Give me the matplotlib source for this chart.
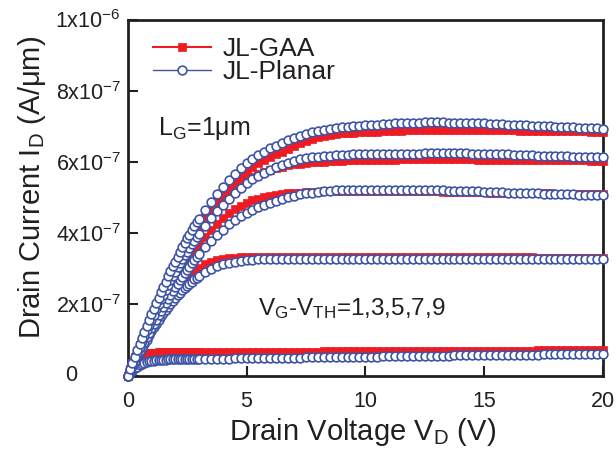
import numpy as np
import matplotlib
matplotlib.use("Agg")
import matplotlib.pyplot as plt

plt.rcParams['font.family'] = ['Liberation Sans', 'DejaVu Sans']
plt.rcParams['mathtext.fontset'] = 'custom'
plt.rcParams['mathtext.rm'] = 'Liberation Sans'
plt.rcParams['mathtext.it'] = 'Liberation Sans:italic'
plt.rcParams['mathtext.default'] = 'regular'

# drain voltage sweep (V): fine steps in the linear region, coarser later
vd = np.concatenate([np.round(np.arange(0, 3.001, 0.1), 2),
                     np.arange(3.25, 10.001, 0.25),
                     np.arange(10.25, 20.001, 0.25)])

# drain current in units of 1e-7 A/um
# JL-Planar (blue circles)
planar_1 = [0, .07, .14, .20, .25, .29, .33, .36, .38, .40, .41, .42, .43, .43, .44, .44,
            .44, .45, .45, .45, .45, .45, .46, .46, .46, .46, .46, .46, .46, .46, .46,
            .46, .47, .47, .47, .47, .48, .48, .48, .48, .49, .49, .49, .49, .50, .50, .50,
            .50, .51, .51, .51, .51, .52, .52, .52, .52, .53, .53, .53,
            .53, .53, .54, .54, .54, .54, .55, .55, .55, .55, .56, .56, .56, .56, .57, .57,
            .57, .57, .57, .58, .58, .58, .58, .58, .59, .59, .59, .59, .59, .60, .60, .60,
            .60, .60, .60, .61, .61, .61, .61, .61]
planar_3 = [0, .13, .26, .39, .52, .65, .77, .89, 1.01, 1.13, 1.25, 1.36, 1.46, 1.56, 1.66, 1.75,
            1.84, 1.93, 2.02, 2.10, 2.18, 2.25, 2.32, 2.39, 2.46, 2.52, 2.58, 2.64, 2.70, 2.75, 2.80,
            2.91, 3.00, 3.07, 3.13, 3.17, 3.20, 3.22, 3.24, 3.25, 3.26, 3.26, 3.27, 3.27, 3.27, 3.27,
            3.28, 3.28, 3.28, 3.28, 3.28, 3.28, 3.28, 3.28, 3.28, 3.28, 3.28, 3.28, 3.28,
            3.28, 3.28, 3.28, 3.28, 3.28, 3.28, 3.28, 3.28, 3.28, 3.28, 3.28, 3.28, 3.28, 3.28,
            3.27, 3.27, 3.27, 3.27, 3.27, 3.27, 3.27, 3.27, 3.27, 3.27, 3.27, 3.27, 3.27, 3.27,
            3.27, 3.27, 3.27, 3.27, 3.27, 3.26, 3.26, 3.26, 3.26, 3.26, 3.26, 3.26]
planar_5 = [0, .14, .27, .41, .55, .68, .81, .94, 1.07, 1.20, 1.33, 1.45, 1.57, 1.69, 1.81, 1.93,
            2.04, 2.15, 2.27, 2.38, 2.48, 2.58, 2.68, 2.78, 2.88, 2.97, 3.06, 3.15, 3.24, 3.33, 3.41,
            3.60, 3.78, 3.95, 4.10, 4.25, 4.38, 4.48, 4.57, 4.65, 4.72, 4.79, 4.85, 4.91, 4.96, 5.01,
            5.05, 5.09, 5.12, 5.14, 5.16, 5.18, 5.19, 5.20, 5.21, 5.21, 5.22, 5.22, 5.22,
            5.22, 5.22, 5.22, 5.22, 5.22, 5.22, 5.21, 5.21, 5.21, 5.21, 5.20, 5.20,
            5.20, 5.19, 5.19, 5.18, 5.18, 5.17, 5.17, 5.16, 5.16, 5.15, 5.15, 5.14,
            5.14, 5.13, 5.13, 5.12, 5.12, 5.11, 5.11, 5.10, 5.10, 5.09, 5.09, 5.08,
            5.08, 5.08, 5.07, 5.07]
planar_7 = [0, .16, .32, .48, .64, .80, .96, 1.11, 1.27, 1.42, 1.57, 1.71, 1.86, 2.00, 2.14, 2.27,
            2.41, 2.54, 2.67, 2.80, 2.92, 3.04, 3.15, 3.27, 3.38, 3.48, 3.59, 3.69, 3.79, 3.89, 3.98,
            4.20, 4.42, 4.62, 4.80, 4.97, 5.13, 5.27, 5.40, 5.51, 5.60, 5.70, 5.78, 5.85, 5.92, 5.98,
            6.03, 6.07, 6.10, 6.13, 6.15, 6.17, 6.18, 6.19, 6.20, 6.20, 6.21, 6.21, 6.22,
            6.22, 6.22, 6.22, 6.23, 6.23, 6.23, 6.23, 6.23, 6.23, 6.24, 6.24, 6.24,
            6.24, 6.24, 6.24, 6.24, 6.24, 6.23, 6.23, 6.23, 6.22, 6.22, 6.21, 6.21,
            6.20, 6.20, 6.19, 6.19, 6.18, 6.18, 6.17, 6.17, 6.16, 6.16, 6.15, 6.15,
            6.14, 6.14, 6.13, 6.13]
planar_9 = [0, .18, .36, .53, .71, .88, 1.05, 1.22, 1.39, 1.56, 1.72, 1.88, 2.04, 2.19, 2.35, 2.50,
            2.64, 2.79, 2.93, 3.07, 3.20, 3.33, 3.47, 3.60, 3.72, 3.85, 3.96, 4.08, 4.19, 4.30, 4.40,
            4.65, 4.88, 5.10, 5.30, 5.49, 5.66, 5.82, 5.96, 6.09, 6.20, 6.29, 6.38, 6.46, 6.54, 6.61,
            6.68, 6.74, 6.79, 6.83, 6.87, 6.90, 6.93, 6.95, 6.97, 6.99, 7.00, 7.02, 7.03,
            7.04, 7.05, 7.06, 7.07, 7.08, 7.08, 7.09, 7.10, 7.10, 7.11, 7.11, 7.11,
            7.11, 7.10, 7.10, 7.10, 7.09, 7.09, 7.08, 7.08, 7.07, 7.06, 7.06, 7.05,
            7.04, 7.03, 7.03, 7.02, 7.01, 7.00, 7.00, 6.99, 6.98, 6.97, 6.97, 6.96,
            6.95, 6.94, 6.94, 6.93]

# JL-GAA (red squares)
gaa_1 = [0, .11, .22, .32, .41, .48, .53, .57, .60, .62, .63, .64, .64, .65, .65, .65,
         .65, .65, .65, .65, .66, .66, .66, .66, .66, .66, .66, .66, .66, .66, .66,
         .66, .66, .66, .66, .66, .66, .66, .66, .67, .67, .67, .67, .67, .67, .67, .67,
         .67, .67, .67, .67, .68, .68, .68, .68, .68, .68, .68, .68,
         .68, .68, .68, .68, .68, .68, .69, .69, .69, .69, .69, .69, .69, .69, .69, .69,
         .70, .70, .70, .70, .70, .70, .70, .70, .70, .70, .70, .70, .71, .71, .71, .71,
         .71, .71, .71, .71, .71, .71, .71, .71]
gaa_3 = [0, .14, .27, .41, .55, .68, .81, .94, 1.07, 1.20, 1.33, 1.45, 1.57, 1.69, 1.80, 1.90,
         2.00, 2.10, 2.19, 2.28, 2.37, 2.45, 2.53, 2.61, 2.68, 2.75, 2.81, 2.87, 2.93, 2.98, 3.03,
         3.13, 3.20, 3.25, 3.28, 3.30, 3.31, 3.32, 3.32, 3.33, 3.33, 3.33, 3.33, 3.33, 3.33, 3.33,
         3.33, 3.33, 3.33, 3.33, 3.33, 3.33, 3.33, 3.33, 3.33, 3.33, 3.33, 3.33, 3.33,
         3.33, 3.33, 3.33, 3.33, 3.33, 3.33, 3.33, 3.33, 3.33, 3.33, 3.33, 3.33,
         3.32, 3.32, 3.32, 3.32, 3.32, 3.32, 3.32, 3.32, 3.32, 3.32, 3.32, 3.32,
         3.32, 3.32, 3.32, 3.32, 3.31, 3.31, 3.31, 3.31, 3.31, 3.31, 3.31, 3.31,
         3.31, 3.31, 3.31, 3.31]
gaa_5 = [0, .15, .29, .44, .58, .72, .86, 1.00, 1.14, 1.28, 1.42, 1.55, 1.68, 1.81, 1.94, 2.07,
         2.19, 2.31, 2.43, 2.55, 2.66, 2.77, 2.88, 2.99, 3.10, 3.20, 3.30, 3.40, 3.50, 3.59, 3.68,
         3.89, 4.08, 4.26, 4.42, 4.56, 4.67, 4.77, 4.85, 4.92, 4.97, 5.01, 5.05, 5.08, 5.10, 5.12,
         5.13, 5.14, 5.15, 5.16, 5.16, 5.17, 5.17, 5.17, 5.18, 5.18, 5.18, 5.18, 5.18,
         5.18, 5.18, 5.18, 5.18, 5.18, 5.18, 5.18, 5.17, 5.17, 5.17, 5.17, 5.17,
         5.16, 5.16, 5.16, 5.16, 5.15, 5.15, 5.15, 5.15, 5.14, 5.14, 5.14, 5.13,
         5.13, 5.13, 5.13, 5.12, 5.12, 5.12, 5.12, 5.11, 5.11, 5.11, 5.11, 5.10,
         5.10, 5.10, 5.10, 5.10]
gaa_7 = [0, .16, .33, .49, .66, .82, .98, 1.14, 1.30, 1.46, 1.61, 1.76, 1.91, 2.06, 2.20, 2.35,
         2.49, 2.62, 2.76, 2.89, 3.02, 3.14, 3.26, 3.38, 3.49, 3.60, 3.71, 3.81, 3.91, 4.01, 4.10,
         4.33, 4.54, 4.74, 4.92, 5.09, 5.24, 5.37, 5.48, 5.57, 5.65, 5.72, 5.78, 5.83, 5.87, 5.90,
         5.93, 5.95, 5.97, 5.99, 6.00, 6.01, 6.02, 6.03, 6.03, 6.04, 6.04, 6.05, 6.05,
         6.05, 6.06, 6.06, 6.06, 6.06, 6.07, 6.07, 6.07, 6.07, 6.07, 6.07, 6.07,
         6.07, 6.07, 6.07, 6.07, 6.07, 6.07, 6.06, 6.06, 6.06, 6.06, 6.06, 6.06,
         6.06, 6.05, 6.05, 6.05, 6.05, 6.05, 6.05, 6.04, 6.04, 6.04, 6.04, 6.04,
         6.04, 6.03, 6.03, 6.03]
gaa_9 = [0, .17, .34, .51, .68, .85, 1.01, 1.17, 1.33, 1.49, 1.65, 1.80, 1.95, 2.10, 2.25, 2.40,
         2.54, 2.67, 2.80, 2.93, 3.05, 3.17, 3.30, 3.42, 3.54, 3.65, 3.76, 3.88, 3.99, 4.10, 4.20,
         4.43, 4.65, 4.86, 5.06, 5.24, 5.42, 5.58, 5.72, 5.85, 5.96, 6.05, 6.13, 6.21, 6.29, 6.37,
         6.45, 6.53, 6.60, 6.65, 6.69, 6.73, 6.76, 6.78, 6.80, 6.81, 6.82, 6.83, 6.84,
         6.85, 6.85, 6.86, 6.87, 6.87, 6.88, 6.89, 6.90, 6.90, 6.90, 6.91, 6.91,
         6.91, 6.91, 6.91, 6.91, 6.91, 6.90, 6.90, 6.90, 6.90, 6.89, 6.89, 6.89,
         6.89, 6.88, 6.88, 6.88, 6.88, 6.87, 6.87, 6.87, 6.87, 6.86, 6.86, 6.86,
         6.86, 6.85, 6.85, 6.85]

gaa_curves = [gaa_1, gaa_3, gaa_5, gaa_7, gaa_9]
planar_curves = [planar_1, planar_3, planar_5, planar_7, planar_9]

red = '#ED1C24'
blue = '#3E55A6'
ink = '#231F20'

fig = plt.figure(figsize=(6.16, 4.57), dpi=100)
ax = fig.add_axes([0.2073, 0.1783, 0.7716, 0.779])

for i, cur in enumerate(gaa_curves):
    ax.plot(vd, np.array(cur) * 1e-7, color=red, lw=1.5, marker='s', ms=5.5,
            mfc=red, mec=red, mew=0.5, clip_on=False, zorder=3,
            label='JL-GAA' if i == 0 else None)
for i, cur in enumerate(planar_curves):
    ax.plot(vd, np.array(cur) * 1e-7, color=blue, lw=1, marker='o', ms=6.3,
            mfc='white', mec=blue, mew=1.2, clip_on=False, zorder=4,
            label='JL-Planar' if i == 0 else None)

ax.set_xlim(0, 20)
ax.set_ylim(0, 1e-6)
ax.set_xticks([0, 5, 10, 15, 20])
ax.set_xticklabels(['0', '5', '10', '15', '20'])
ax.set_yticks([0, 2e-7, 4e-7, 6e-7, 8e-7, 1e-6])
ax.set_yticklabels(['', r'$2x10^{-7}$', r'$4x10^{-7}$', r'$6x10^{-7}$',
                    r'$8x10^{-7}$', r'$1x10^{-6}$'])
ax.text(-0.119, 0, '0', transform=ax.transAxes, ha='center', va='center',
        fontsize=15.5, color=ink)

ax.tick_params(axis='both', direction='in', length=7, width=1.5, colors=ink,
               labelsize=15.5, top=False, right=False)
ax.tick_params(axis='x', pad=11)
ax.tick_params(axis='y', pad=5)
for s in ax.spines.values():
    s.set_linewidth(2)
    s.set_color(ink)

ax.set_xlabel('Drain Voltage V$_D$ (V)', fontsize=21, color=ink)
ax.xaxis.set_label_coords(0.493, -0.115)
ax.set_ylabel('Drain Current I$_D$ (A/μm)', fontsize=21, color=ink)
ax.yaxis.set_label_coords(-0.168, 0.529)

ax.text(1.26, 6.76e-7, 'L$_G$=1μm', fontsize=18, color=ink, va='baseline')
ax.text(5.47, 1.70e-7, 'V$_G$-V$_{TH}$=1,3,5,7,9', fontsize=17.5, color=ink,
        va='baseline')

leg = ax.legend(loc='upper left', bbox_to_anchor=(0.053, 0.95), frameon=False,
                fontsize=19, borderpad=0, borderaxespad=0, handlelength=2.2,
                handletextpad=0.45, labelspacing=-0.05, numpoints=1, markerscale=1.0)
for t in leg.get_texts():
    t.set_color(ink)

fig.savefig('out.png', dpi=100)
